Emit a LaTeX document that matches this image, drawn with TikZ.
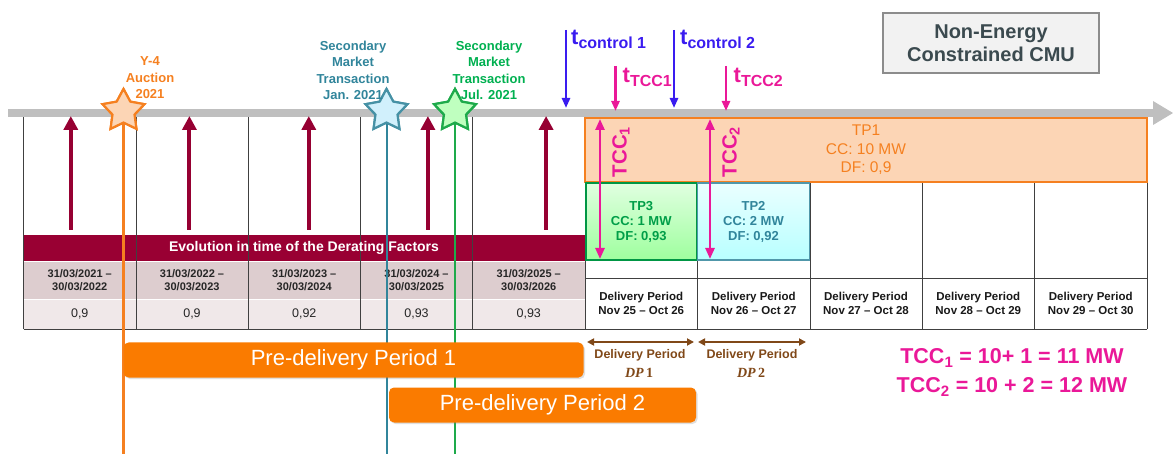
\documentclass[tikz,border=0pt]{standalone}
\usepackage{fontspec}
\setmainfont{Liberation Sans}
\newfontfamily\dpserif{Liberation Serif}
\usetikzlibrary{shapes.geometric,arrows.meta,shadows}
\definecolor{barg}{RGB}{191,191,191}
\definecolor{dred}{RGB}{153,0,51}
\definecolor{daterow}{RGB}{221,205,207}
\definecolor{valrow}{RGB}{240,232,233}
\definecolor{orng}{RGB}{245,128,32}
\definecolor{orfill}{RGB}{252,213,181}
\definecolor{pdo}{RGB}{250,123,0}
\definecolor{tealc}{RGB}{49,133,155}
\definecolor{grnc}{RGB}{0,176,80}
\definecolor{grnline}{RGB}{30,170,75}
\definecolor{mag}{RGB}{234,24,152}
\definecolor{blu}{RGB}{58,28,240}
\definecolor{brn}{RGB}{128,72,24}
\definecolor{boxtxt}{RGB}{59,74,79}
\definecolor{arrred}{RGB}{150,0,50}
\newcommand{\fsz}[2]{\fontsize{#1}{#2}\selectfont}
\begin{document}
\begin{tikzpicture}[x=1pt,y=-1pt,
  gridline/.style={draw=black!75,line width=0.8pt},
  datetxt/.style={font=\fsz{11}{13.5}\bfseries,text=black!85,align=center},
  valtxt/.style={font=\fsz{12.5}{14},text=black!85},
  dptxt/.style={font=\fsz{11.5}{14}\bfseries,text=black!90,align=center},
  uparrow/.style={draw=arrred,line width=4pt,-{Triangle[width=14pt,length=14pt]}},
  toparrow/.style={line width=2.6pt,-{Triangle[width=8pt,length=10pt]}},
  tccarrow/.style={draw=mag,line width=2.4pt,{Triangle[width=9pt,length=11pt]}-{Triangle[width=9pt,length=11pt]}},
  dparrow/.style={draw=brn,line width=1.8pt,{Triangle[width=7pt,length=7pt]}-{Triangle[width=7pt,length=7pt]}},
  evstar/.style={star,star points=5,star point ratio=1.9,minimum size=44pt,inner sep=0pt,line width=2.2pt},
  evlabel/.style={font=\fsz{13}{16.5}\bfseries,align=center},
  pdbox/.style={fill=pdo,rounded corners=5pt,text=white,font=\fsz{22}{22},drop shadow={opacity=0.25,shadow xshift=1.5pt,shadow yshift=-1.5pt}},
  tbox/.style={draw,line width=1.6pt,align=center,inner sep=0pt},
  tsub/.style={anchor=base west,inner sep=0pt,font=\bfseries},
]
\useasboundingbox (0,0) rectangle (1173,454);

% time bar
\fill[barg] (8,109) rectangle (1153,117);
\fill[barg] (1153,101) -- (1173,113) -- (1153,125) -- cycle;

% left table
\fill[daterow] (23.5,262) rectangle (585,299);
\fill[valrow] (23.5,300) rectangle (585,329);
\fill[dred] (23.5,235) rectangle (585,261);
\foreach \x in {23.5,136,248,360.5,472.5,585}
  \draw[gridline] (\x,117) -- (\x,329);
\draw[gridline] (23.5,329) -- (585,329);
\node[font=\fsz{14}{16}\bfseries,text=white] (evo) at (304,248) {Evolution in time of the Derating Factors};

\node[datetxt] (d1) at (79.75,280) {31/03/2021 –\\30/03/2022};
\node[datetxt] (d2) at (192,280) {31/03/2022 –\\30/03/2023};
\node[datetxt] (d3) at (304.25,280) {31/03/2023 –\\30/03/2024};
\node[datetxt] (d4) at (416.5,280) {31/03/2024 –\\30/03/2025};
\node[datetxt] (d5) at (528.75,280) {31/03/2025 –\\30/03/2026};
\node[valtxt] (v1) at (79.75,314) {0,9};
\node[valtxt] (v2) at (192,314) {0,9};
\node[valtxt] (v3) at (304.25,314) {0,92};
\node[valtxt] (v4) at (416.5,314) {0,93};
\node[valtxt] (v5) at (528.75,314) {0,93};

% derating arrows
\foreach \x/\n in {70.8/a1,189.4/a2,308.8/a3,427.9/a4,546.1/a5}{
  \coordinate (\n b) at (\x,230);
  \coordinate (\n t) at (\x,116);
  \draw[uparrow] (\n b) -- (\n t);
}

% right table
\draw[gridline] (585,278) -- (1147,278);
\draw[gridline] (585,329) -- (1147,329);
\foreach \x in {697.5,810,922,1034.5,1147}
  \draw[gridline] (\x,182) -- (\x,329);
\node[tbox,draw=orng,fill=orfill,minimum width=562pt,minimum height=64pt,text=orng,font=\fsz{15.5}{18.5}] (tp1) at (866,150) {TP1\\CC: 10 MW\\DF: 0,9};
\node[tbox,draw=grnc!85!black,top color=green!12,bottom color=green!38,minimum width=111pt,minimum height=77pt,text=grnc!90!black,font=\fsz{13}{15}\bfseries] (tp3) at (641.25,221.5) {TP3\\CC: 1 MW\\DF: 0,93};
\node[tbox,draw=tealc!85,top color=cyan!8,bottom color=cyan!28,minimum width=112pt,minimum height=77pt,text=tealc,font=\fsz{13}{15}\bfseries] (tp2) at (753.5,221.5) {TP2\\CC: 2 MW\\DF: 0,92};

\node[dptxt] (p1) at (641.25,303.5) {Delivery Period\\Nov 25 – Oct 26};
\node[dptxt] (p2) at (753.75,303.5) {Delivery Period\\Nov 26 – Oct 27};
\node[dptxt] (p3) at (866,303.5) {Delivery Period\\Nov 27 – Oct 28};
\node[dptxt] (p4) at (978.25,303.5) {Delivery Period\\Nov 28 – Oct 29};
\node[dptxt] (p5) at (1090.75,303.5) {Delivery Period\\Nov 29 – Oct 30};

% TCC double arrows
\coordinate (c1t) at (600,119); \coordinate (c1b) at (600,259);
\coordinate (c2t) at (710,119); \coordinate (c2b) at (710,259);
\draw[tccarrow] (c1t) -- (c1b);
\draw[tccarrow] (c2t) -- (c2b);
\node[rotate=90,text=mag,font=\fsz{20.5}{20.5}\bfseries] (tcc1l) at (621,152) {TCC\textsubscript{1}};
\node[rotate=90,text=mag,font=\fsz{20.5}{20.5}\bfseries] (tcc2l) at (731,152) {TCC\textsubscript{2}};

% top arrows
\coordinate (tc1a) at (566,30); \coordinate (tc1b) at (566,108);
\coordinate (tc2a) at (674,30); \coordinate (tc2b) at (674,108);
\coordinate (tt1a) at (615.5,66); \coordinate (tt1b) at (615.5,111);
\coordinate (tt2a) at (726,66); \coordinate (tt2b) at (726,111);
\draw[toparrow,draw=blu] (tc1a) -- (tc1b);
\draw[toparrow,draw=blu] (tc2a) -- (tc2b);
\draw[toparrow,draw=mag] (tt1a) -- (tt1b);
\draw[toparrow,draw=mag] (tt2a) -- (tt2b);
\node[tsub,text=blu] (lc1) at (571,45) {\fsz{22}{22}t\raisebox{-4pt}{\fsz{16}{16}control 1}};
\node[tsub,text=blu] (lc2) at (680,45) {\fsz{22}{22}t\raisebox{-4pt}{\fsz{16}{16}control 2}};
\node[tsub,text=mag] (lt1) at (622.5,83) {\fsz{22}{22}t\raisebox{-4pt}{\fsz{16}{16}TCC1}};
\node[tsub,text=mag] (lt2) at (733.5,83) {\fsz{22}{22}t\raisebox{-4pt}{\fsz{16}{16}TCC2}};

% CMU box
\node[draw=black!45,line width=2pt,fill=black!5,minimum width=216pt,minimum height=60pt,align=center,text=boxtxt,font=\fsz{20}{23}\bfseries] (cmu) at (991,43) {Non-Energy\\Constrained CMU};

% event lines
\node[evstar,draw=orng,fill=orfill] (s1) at (123.5,111) {};
\node[evstar,draw=tealc!90,fill=cyan!18] (s2) at (386.5,111) {};
\node[evstar,draw=grnline,fill=green!25] (s3) at (455,111) {};
\coordinate (s1e) at (123.5,454);
\coordinate (s2e) at (386.5,454);
\coordinate (s3e) at (455,454);
\draw[orng,line width=2.4pt] (s1.center) -- (s1e);
\draw[tealc,line width=2pt] (s2.center) -- (s2e);
\draw[grnline,line width=2pt] (s3.center) -- (s3e);
\node[evstar,draw=orng,fill=orfill] at (123.5,111) {};
\node[evstar,draw=tealc!90,fill=cyan!18] at (386.5,111) {};
\node[evstar,draw=grnline,fill=green!25] at (455,111) {};

\node[evlabel,text=orng] (l1) at (150,78) {Y-4\\Auction\\2021};
\node[evlabel,text=tealc] (l2) at (353,70.5) {Secondary\\Market\\Transaction\\Jan. 2021};
\node[evlabel,text=grnc] (l3) at (489,70.5) {Secondary\\Market\\Transaction\\Jul. 2021};

% pre-delivery periods
\node[pdbox,minimum width=460pt,minimum height=35pt] (pd1) at (353.5,360) {Pre-delivery Period 1};
\node[pdbox,minimum width=307pt,minimum height=35pt] (pd2) at (542.5,405) {Pre-delivery Period 2};

% delivery period arrows
\coordinate (dp1a) at (587,342); \coordinate (dp1b) at (694,342);
\coordinate (dp2a) at (698,342); \coordinate (dp2b) at (806,342);
\draw[dparrow] (dp1a) -- (dp1b);
\draw[dparrow] (dp2a) -- (dp2b);
\node[font=\fsz{12.5}{14}\bfseries,text=brn] (dl1) at (640,355) {Delivery Period};
\node[font=\fsz{14}{14}\dpserif\bfseries,text=brn] (dn1) at (639,373) {\itshape DP\,\upshape 1};
\node[font=\fsz{12.5}{14}\bfseries,text=brn] (dl2) at (752,355) {Delivery Period};
\node[font=\fsz{14}{14}\dpserif\bfseries,text=brn] (dn2) at (751,373) {\itshape DP\,\upshape 2};

% equations
\node[font=\fsz{21.5}{21.5}\bfseries,text=mag] (eq1) at (1012,358) {TCC\textsubscript{1} = 10+ 1 = 11 MW};
\node[font=\fsz{21.5}{21.5}\bfseries,text=mag] (eq2) at (1012,387) {TCC\textsubscript{2} = 10 + 2 = 12 MW};
\end{tikzpicture}
\end{document}
